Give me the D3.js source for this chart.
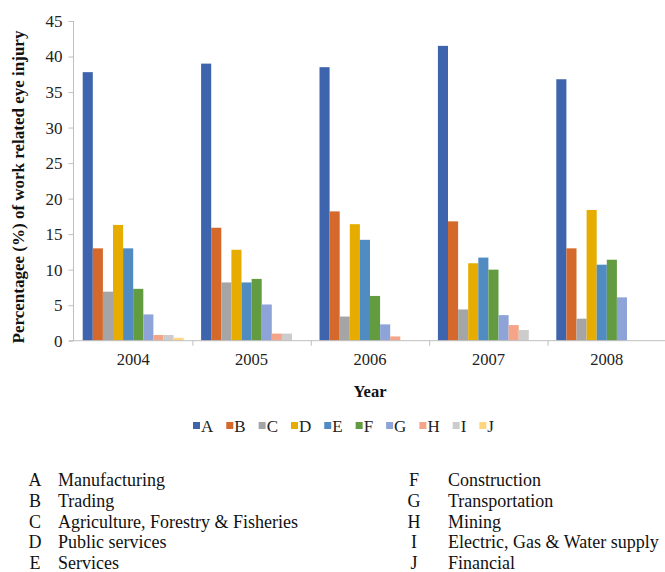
<!DOCTYPE html>
<html>
<head>
<meta charset="utf-8">
<script src="https://cdn.jsdelivr.net/npm/d3@7"></script>
<style>
  html, body { margin: 0; padding: 0; background: #fff; }
  svg text { font-family: "Liberation Serif", "Times New Roman", Times, serif !important; }
</style>
</head>
<body>
<svg id="chart" width="665" height="572"></svg>
<script>
// ---- data ----
const years = ["2004", "2005", "2006", "2007", "2008"];
const sectors = ["A", "B", "C", "D", "E", "F", "G", "H", "I", "J"];
const sectorNames = ["Manufacturing", "Trading", "Agriculture, Forestry & Fisheries", "Public services", "Services",
                     "Construction", "Transportation", "Mining", "Electric, Gas & Water supply", "Financial"];
const valuesA = [37.8, 39.0, 38.5, 41.5, 36.8];
const valuesB = [13.0, 15.9, 18.2, 16.8, 13.0];
const valuesC = [6.9, 8.2, 3.4, 4.4, 3.1];
const valuesD = [16.3, 12.8, 16.4, 10.9, 18.4];
const valuesE = [13.0, 8.2, 14.2, 11.7, 10.7];
const valuesF = [7.3, 8.7, 6.3, 10.0, 11.4];
const valuesG = [3.7, 5.1, 2.3, 3.6, 6.1];
const valuesH = [0.8, 1.0, 0.6, 2.2, 0];
const valuesI = [0.8, 1.0, 0, 1.5, 0];
const valuesJ = [0.4, 0, 0, 0, 0];
const yTicks = [0, 5, 10, 15, 20, 25, 30, 35, 40, 45];
const colors = ["#3F64AE", "#D5692B", "#A5A5A5", "#E6AC00", "#508BC2", "#629B40", "#8EA4D8", "#F4A487", "#CCCCCC", "#FFD67F"];

const seriesValues = [valuesA, valuesB, valuesC, valuesD, valuesE, valuesF, valuesG, valuesH, valuesI, valuesJ];

const svg = d3.select("#chart");
const FONT = '"Liberation Serif", "Times New Roman", Times, serif';

const plot = { left: 74, right: 666, top: 21, bottom: 340.7 };

const y = d3.scaleLinear().domain([0, 45]).range([plot.bottom, plot.top]);
const x0 = d3.scaleBand().domain(years).range([plot.left, plot.right]).padding(0);
const x1 = d3.scaleBand().domain(sectors).range([8.7, x0.bandwidth() - 8.7]).padding(0);
const color = d3.scaleOrdinal().domain(sectors).range(colors);

// bars
const groups = svg.append("g").selectAll("g")
  .data(years)
  .join("g")
  .attr("transform", d => `translate(${x0(d)},0)`);

groups.selectAll("rect")
  .data((yr, i) => sectors.map((s, j) => ({ s, v: seriesValues[j][i] })).filter(d => d.v > 0))
  .join("rect")
  .attr("x", d => x1(d.s))
  .attr("y", d => y(d.v))
  .attr("width", x1.bandwidth())
  .attr("height", d => y(0) - y(d.v))
  .attr("fill", d => color(d.s));

// y axis
const yAxis = svg.append("g")
  .attr("transform", `translate(${plot.left - 0.5},0)`)
  .call(d3.axisLeft(y).tickValues(yTicks).tickSize(5).tickPadding(6));
yAxis.attr("font-family", FONT);
yAxis.select(".domain").attr("stroke", "#bfbfbf").attr("d", `M0,${plot.top}V${plot.bottom}`);
yAxis.selectAll(".tick line").attr("stroke", "#bfbfbf");
yAxis.selectAll(".tick text")
  .attr("font-size", 17).attr("fill", "#222");

// x axis
const xAxis = svg.append("g")
  .attr("transform", `translate(0,${plot.bottom})`)
  .call(d3.axisBottom(x0).tickSize(0).tickPadding(13));
xAxis.attr("font-family", FONT);
xAxis.select(".domain").attr("stroke", "#bfbfbf").attr("d", `M${plot.left - 5},0H${plot.right}`);
xAxis.selectAll(".tick text")
  .attr("font-size", 16.5).attr("fill", "#222");
// category separators
svg.append("g").selectAll("line")
  .data(years.slice(1))
  .join("line")
  .attr("x1", d => x0(d) + 0.5).attr("x2", d => x0(d) + 0.5)
  .attr("y1", plot.bottom).attr("y2", plot.bottom + 5)
  .attr("stroke", "#bfbfbf");

// axis titles
svg.append("text")
  .attr("transform", `translate(24,187) rotate(-90)`)
  .attr("text-anchor", "middle")
  .attr("font-weight", "bold")
  .attr("font-size", 17)
  .attr("fill", "#111")
  .text("Percentagee (%) of work related eye injury");

svg.append("text")
  .attr("x", (plot.left + plot.right) / 2)
  .attr("y", 397)
  .attr("text-anchor", "middle")
  .attr("font-weight", "bold")
  .attr("font-size", 16.5)
  .attr("fill", "#111")
  .text("Year");

// legend
const legend = svg.append("g");
let lx = 193;
sectors.forEach((s, i) => {
  legend.append("rect")
    .attr("x", lx).attr("y", 422).attr("width", 7).attr("height", 7)
    .attr("fill", color(s));
  const t = legend.append("text")
    .attr("x", lx + 8).attr("y", 431.5)
    .attr("font-size", 17).attr("fill", "#222")
    .text(s);
  lx += 8 + t.node().getComputedTextLength() + 13;
});

// definitions list
const defs = svg.append("g").attr("font-size", 18).attr("fill", "#111");
sectors.forEach((s, i) => {
  const col = i < 5 ? 0 : 1;
  const row = i % 5;
  const yy = 486 + row * 20.75;
  const letterX = col === 0 ? 35 : 414;
  const nameX = col === 0 ? 58 : 448;
  defs.append("text").attr("x", letterX).attr("y", yy).attr("text-anchor", "middle").text(s);
  defs.append("text").attr("x", nameX).attr("y", yy).text(sectorNames[i]);
});
</script>
</body>
</html>
